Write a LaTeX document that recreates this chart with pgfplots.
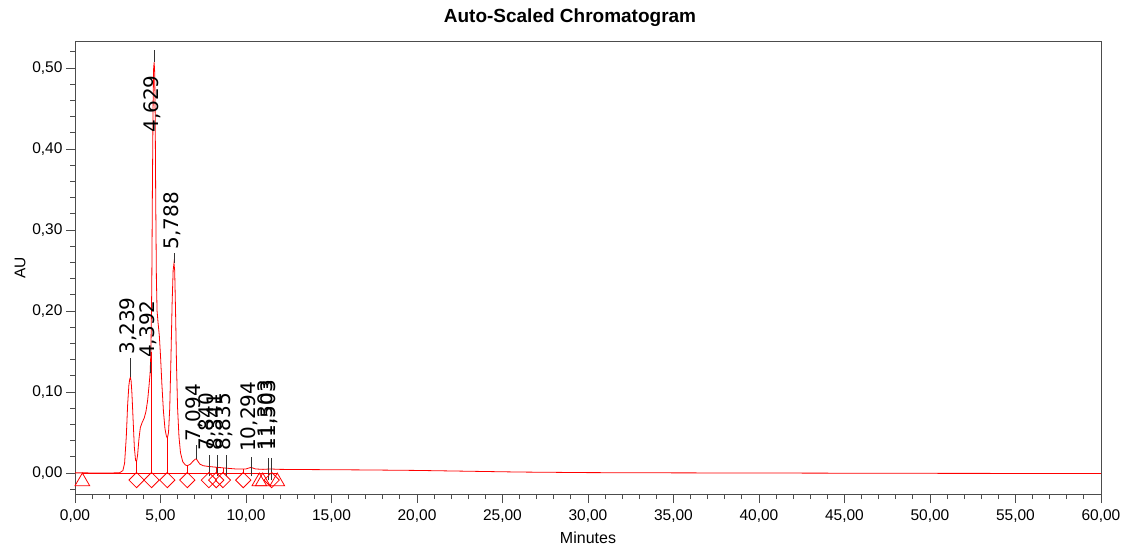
\documentclass[border=0pt]{standalone}
\usepackage{fontspec}
\setmainfont{Liberation Sans}
\newfontfamily\dejavu{DejaVu Sans}
\usepackage{pgfplots}
\pgfplotsset{compat=1.18}
\begin{document}
\begin{tikzpicture}[x=1pt,y=1pt]
\useasboundingbox (0,0) rectangle (1133,552);
\node[font=\fontsize{19}{22}\selectfont\bfseries] at (570,534) {Auto-Scaled Chromatogram};
\node[font=\fontsize{16}{19}\selectfont] at (588,14) {Minutes};
\node[font=\fontsize{15.5}{18}\selectfont, rotate=90] at (20,284) {AU};
\begin{axis}[
  at={(75pt,58pt)}, anchor=south west,
  scale only axis, width=1026pt, height=453pt,
  xmin=0, xmax=60, ymin=-0.0259, ymax=0.5333,
  xtick={0,5,10,15,20,25,30,35,40,45,50,55,60}, minor x tick num=4,
  ytick={0,0.1,0.2,0.3,0.4,0.5},
  minor ytick={-0.02,0.02,0.04,0.06,0.08,0.12,0.14,0.16,0.18,0.22,0.24,0.26,0.28,0.32,0.34,0.36,0.38,0.42,0.44,0.46,0.48,0.52},
  scaled ticks=false,
  tick align=outside, tick pos=left,
  major tick length=9pt, minor tick length=5pt,
  axis line style={black!70, line width=0.8pt},
  every tick/.style={black!70, line width=0.8pt},
  ticklabel style={font=\fontsize{15.5}{18}\selectfont},
  xticklabel style={yshift=-3pt},
  /pgf/number format/use comma,
  /pgf/number format/fixed,
  /pgf/number format/fixed zerofill,
  /pgf/number format/precision=2,
  /pgf/number format/assume math mode=true,
  clip=false,
  unbounded coords=jump,
]
% chromatogram trace
\addplot[red, line width=0.8pt] coordinates {
(0,0.0002) (0.5,0.0002) (1,0.0001) (2,0.0001) (2.6,0.0002) (2.8,0.003) (2.9,0.012) (3.0,0.045) (3.08,0.085) (3.15,0.108) (3.2,0.116) (3.239,0.118) (3.28,0.114) (3.33,0.098) (3.4,0.065) (3.47,0.032) (3.54,0.016) (3.6,0.014) (3.66,0.022) (3.74,0.042) (3.82,0.056) (3.92,0.062) (4.05,0.068) (4.15,0.076) (4.25,0.09) (4.33,0.108) (4.392,0.123) (4.44,0.15) (4.49,0.23) (4.53,0.36) (4.57,0.46) (4.6,0.5) (4.629,0.507) (4.66,0.495) (4.69,0.44) (4.72,0.34) (4.76,0.24) (4.8,0.2) (4.86,0.185) (4.93,0.17) (5.0,0.145) (5.08,0.11) (5.17,0.077) (5.26,0.055) (5.34,0.046) (5.4,0.043) (5.47,0.05) (5.54,0.08) (5.61,0.14) (5.68,0.21) (5.74,0.25) (5.788,0.259) (5.83,0.25) (5.88,0.2) (5.94,0.13) (6.0,0.08) (6.08,0.045) (6.17,0.025) (6.3,0.014) (6.45,0.01) (6.57,0.009) (6.75,0.011) (6.92,0.015) (7.03,0.017) (7.094,0.0175) (7.17,0.015) (7.3,0.011) (7.5,0.009) (7.84,0.008) (8.34,0.007) (8.835,0.006) (9.4,0.005) (10.0,0.005) (10.294,0.007) (10.55,0.005) (11.0,0.0045) (11.4,0.005) (12,0.0045) (14,0.0042) (17,0.0038) (20,0.0032) (23,0.0022) (26,0.0012) (30,0.0005) (35,0.0002) (40,0.0) (45,-0.0002) (50,-0.0004) (55,-0.0005) (60,-0.0005)
};
% integration baseline and drop lines
\addplot[red, line width=0.7pt] coordinates {
(0.43,0) (11.83,0) (nan,nan)
(3.6,0) (3.6,0.014) (nan,nan)
(4.44,0) (4.44,0.15) (nan,nan)
(5.40,0) (5.40,0.043) (nan,nan)
(6.57,0) (6.57,0.009) (nan,nan)
(7.83,0) (7.83,0.008) (nan,nan)
(8.26,0) (8.26,0.007) (nan,nan)
(8.65,0) (8.65,0.006) (nan,nan)
(9.84,0) (9.84,0.005)
};
% peak label lines
\addplot[black!80, line width=0.8pt] coordinates {
(3.239,0.118) (3.239,0.142) (nan,nan)
(4.392,0.123) (4.392,0.137) (nan,nan)
(4.629,0.507) (4.629,0.522) (nan,nan)
(5.788,0.259) (5.788,0.272) (nan,nan)
(7.094,0.017) (7.094,0.035) (nan,nan)
(7.840,-0.004) (7.840,0.022) (nan,nan)
(8.341,-0.004) (8.341,0.022) (nan,nan)
(8.835,-0.004) (8.835,0.022) (nan,nan)
(10.294,-0.004) (10.294,0.020) (nan,nan)
(11.303,-0.009) (11.303,0.018) (nan,nan)
(11.503,-0.009) (11.503,0.018)
};
% event markers
\addplot[only marks, red, mark=square, mark size=5.4pt, mark options={rotate=45, line width=0.8pt, fill=none}] coordinates {
(3.6,-0.0087) (4.48,-0.0087) (5.40,-0.0087) (6.57,-0.0087) (7.83,-0.0087) (8.26,-0.0087) (8.65,-0.0087) (9.84,-0.0087) (11.5,-0.0087)
};
\addplot[only marks, red, mark=triangle, mark size=8.5pt, mark options={line width=0.8pt, fill=none}] coordinates {
(0.43,-0.0105) (10.78,-0.0105) (10.98,-0.0105) (11.83,-0.0105)
};
% peak labels
\begin{scope}[every node/.style={font=\dejavu\fontsize{20}{23}\selectfont, inner sep=0pt, xshift=-2pt, rotate=90, anchor=west}]
\node at (axis cs:3.239,0.146) {3,239};
\node at (axis cs:4.392,0.142) {4,392};
\node at (axis cs:4.629,0.420) {4,629};
\node at (axis cs:5.788,0.276) {5,788};
\node at (axis cs:7.094,0.039) {7,094};
\node at (axis cs:7.840,0.028) {7,840};
\node at (axis cs:8.341,0.028) {8,341};
\node at (axis cs:8.835,0.028) {8,835};
\node at (axis cs:10.294,0.026) {10,294};
\node at (axis cs:11.303,0.028) {11,303};
\node at (axis cs:11.503,0.028) {11,503};
\end{scope}
\end{axis}
\end{tikzpicture}
\end{document}
